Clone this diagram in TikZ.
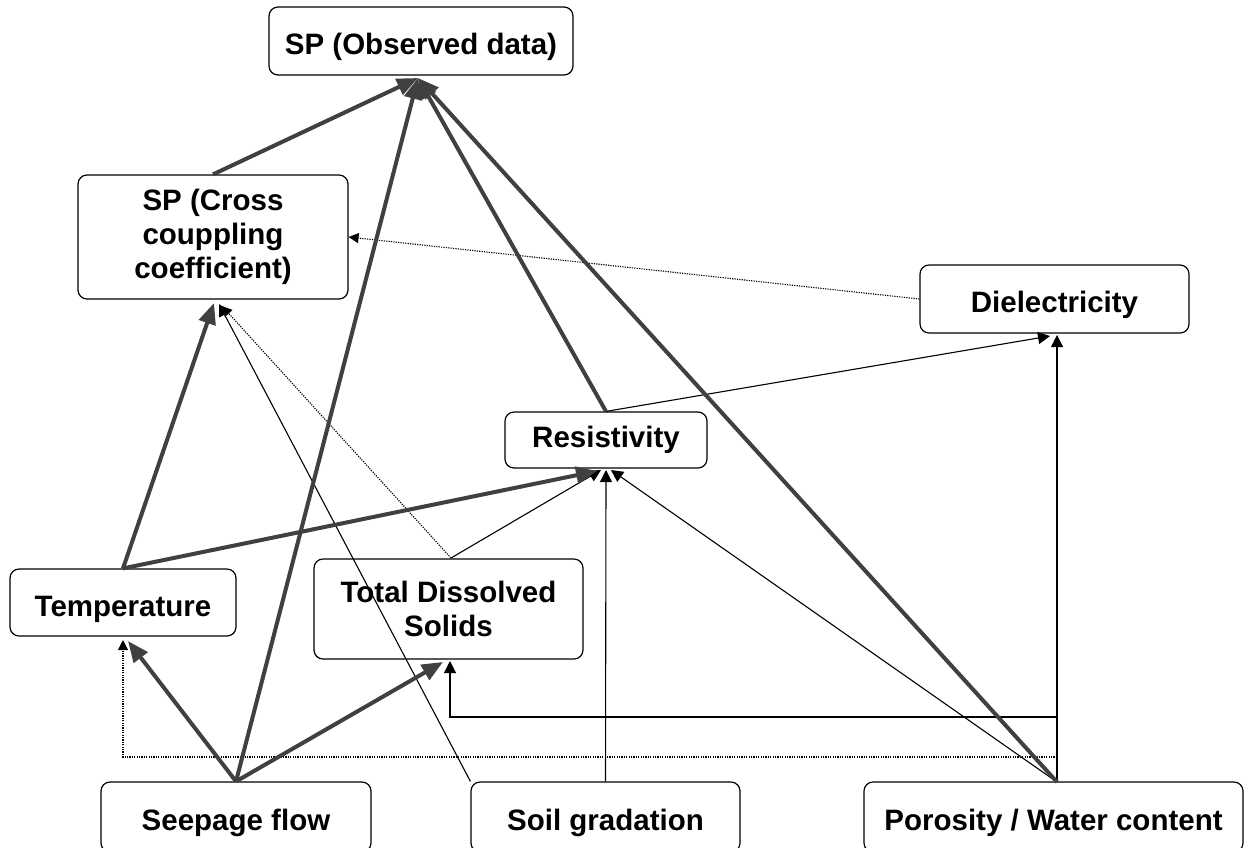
\documentclass[tikz,border=0pt]{standalone}
\usepackage{fontspec}
\setmainfont{Liberation Sans}
\usetikzlibrary{arrows.meta}
\definecolor{darkline}{HTML}{404040}
\begin{document}
\begin{tikzpicture}[x=0.5pt,y=-0.5pt,
  box/.style={draw, line width=0.6pt, rounded corners=4.5pt, align=center, inner sep=0pt,
    font=\fontsize{14.75}{17}\selectfont\bfseries},
  lowtext/.style={text height=17pt, text depth=3.1pt},
  heavyarrow/.style={draw=darkline, line width=2pt, -{Triangle[length=10.5pt,width=8.5pt]}},
  lightarrow/.style={draw=black, line width=0.55pt, -{Triangle[length=6pt,width=6pt]}},
  dotarrow/.style={draw=black, line width=0.55pt, dash pattern=on 0.6pt off 0.6pt,
    -{Triangle[length=5pt,width=5pt]}}]
\useasboundingbox (0,0) rectangle (1245,847);

% boxes
\node[box, lowtext, minimum width=152pt, minimum height=34pt] (obs) at (421,41) {SP (Observed data)};
\node[box, minimum width=135pt, minimum height=62pt] (cross) at (213,237) {SP (Cross\\couppling\\coefficient)};
\node[box, lowtext, minimum width=134.5pt, minimum height=34pt] (diel) at (1054.5,299) {Dielectricity};
\node[box, minimum width=101pt, minimum height=28pt] (res) at (606,440) {Resistivity};
\node[box, lowtext, minimum width=113pt, minimum height=33.5pt] (temp) at (123,602.5) {Temperature};
\node[box, minimum width=134.5pt, minimum height=50pt] (tds) at (448.5,609) {Total Dissolved\\Solids};
\node[box, lowtext, minimum width=135pt, minimum height=35pt] (seep) at (236,817) {Seepage flow};
\node[box, lowtext, minimum width=134.5pt, minimum height=35pt] (soil) at (605.5,817) {Soil gradation};
\node[box, lowtext, minimum width=189.5pt, minimum height=35pt] (poro) at (1053.5,817) {Porosity / Water content};

% connector ends
\coordinate (obsIn) at (418,78);
\coordinate (crossT) at (214,303);
\coordinate (crossS) at (219,304);
\coordinate (crossD) at (222,306);
\coordinate (tempT) at (128,641);
\coordinate (tempD) at (123,640);
\coordinate (tdsT) at (443,662);
\coordinate (tdsIn) at (450,661);
\coordinate (resT) at (597,471);
\coordinate (resA) at (601,470);
\coordinate (resB) at (606,470);
\coordinate (resC) at (611,470);
\coordinate (dielIn) at (1057,335);
\coordinate (dielRes) at (1050,336);
\coordinate (poroTop) at (1057,782);
\coordinate (tdsTop) at (451,558);
\coordinate (wj) at (1057,717);
\coordinate (dj) at (1057,757);

% thin connectors
\draw[lightarrow] (tdsTop) -- (resA);
\draw[lightarrow] (soil.north west) -- (crossS);
\draw[lightarrow] (soil.north) -- (resB);
\draw[lightarrow] (poroTop) -- (resC);
\draw[lightarrow] (poroTop) -- (dielIn);
\draw[lightarrow] (wj) -| (tdsIn);
\draw[lightarrow] (res.north) -- (dielRes);

% dotted connectors
\draw[dotarrow] (tdsTop) -- (crossD);
\draw[dotarrow] (diel.west) -- (cross.east);
\draw[dotarrow] (dj) -| (tempD);

% thick connectors
\draw[heavyarrow] (cross.north) -- (obsIn);
\draw[heavyarrow] (seep.north) -- (obsIn);
\draw[heavyarrow] (res.north) -- (obsIn);
\draw[heavyarrow] (poroTop) -- (obsIn);
\draw[heavyarrow] (temp.north) -- (crossT);
\draw[heavyarrow] (temp.north) -- (resT);
\draw[heavyarrow] (seep.north) -- (tempT);
\draw[heavyarrow] (seep.north) -- (tdsT);
\end{tikzpicture}
\end{document}
